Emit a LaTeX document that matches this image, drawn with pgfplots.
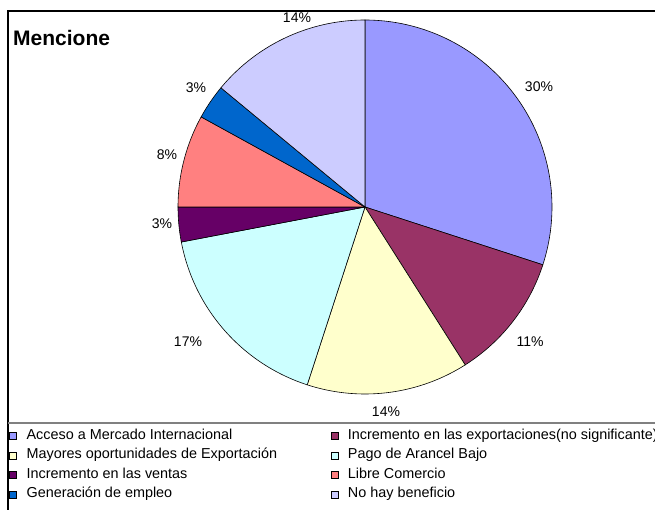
\documentclass[border=0pt]{standalone}
\usepackage{fontspec}
\setmainfont{Liberation Sans}
\usepackage{pgfplots}
\pgfplotsset{compat=1.18}
\definecolor{s1}{HTML}{9999FF}
\definecolor{s2}{HTML}{993366}
\definecolor{s3}{HTML}{FFFFCC}
\definecolor{s4}{HTML}{CCFFFF}
\definecolor{s5}{HTML}{660066}
\definecolor{s6}{HTML}{FF8080}
\definecolor{s7}{HTML}{0066CC}
\definecolor{s8}{HTML}{CCCCFF}
\definecolor{legline}{HTML}{808080}

% centre and radius of the pie, in pixel units of the 655x510 frame
\def\cx{365}
\def\cy{303}
\def\rr{187}

% one slice: #1 = cumulative percent before it, #2 = percent, #3 = colour, #4 = legend text
\newcommand\slice[4]{%
  \pgfmathsetmacro\angA{90-3.6*(#1+#2)}%
  \pgfmathsetmacro\angB{90-3.6*(#1)}%
  \edef\temp{\noexpand\addplot[draw=black, line width=0.6pt, fill=#3,
    domain=\angA:\angB, samples=90, variable=\noexpand\t]}%
  \temp ({\cx+\rr*cos(\t)},{\cy+\rr*sin(\t)}) -- (axis cs:\cx,\cy) -- cycle;
  \addlegendentry{#4}}

\newcommand\lab[1]{\makebox[304pt][l]{#1}}

\begin{document}
\begin{tikzpicture}
\begin{axis}[
  scale only axis, width=655pt, height=510pt,
  xmin=0, xmax=655, ymin=0, ymax=510,
  hide axis, clip=false,
  legend columns=2,
  legend cell align=left,
  legend image code/.code={\filldraw[#1, draw=black, line width=0.4pt] (0pt,-3.5pt) rectangle (7pt,3.5pt);},
  legend style={at={(axis description cs:0.0137,0.1588)}, anchor=north west,
    draw=none, fill=none, inner sep=0pt,
    font=\fontsize{14.4}{16}\selectfont,
    nodes={inner sep=0pt, text height=10pt, text depth=3pt},
    row sep=6.5pt,
    /tikz/every odd column/.append style={column sep=10pt}},
]
  \slice{0}{30}{s1}{\lab{Acceso a Mercado Internacional}}
  \slice{30}{11}{s2}{Incremento en las exportaciones(no significante)}
  \slice{41}{14}{s3}{\lab{Mayores oportunidades de Exportación}}
  \slice{55}{17}{s4}{Pago de Arancel Bajo}
  \slice{72}{3}{s5}{\lab{Incremento en las ventas}}
  \slice{75}{8}{s6}{Libre Comercio}
  \slice{83}{3}{s7}{\lab{Generación de empleo}}
  \slice{86}{14}{s8}{No hay beneficio}

  \begin{scope}[every node/.style={font=\fontsize{14}{16}\selectfont}]
    \node at (axis cs:539,423) {30\%};
    \node at (axis cs:530,168) {11\%};
    \node at (axis cs:386,98) {14\%};
    \node at (axis cs:188,168) {17\%};
    \node at (axis cs:162,286) {3\%};
    \node at (axis cs:167,355) {8\%};
    \node at (axis cs:196,422) {3\%};
    \node at (axis cs:297,492) {14\%};
  \end{scope}

  \node[anchor=west, inner sep=0pt, font=\bfseries\fontsize{21}{24}\selectfont] at (axis cs:13,472) {Mencione};

  % chart frame and legend separator
  \draw[black, line width=1.2pt] (axis cs:8,-5) -- (axis cs:8,499) -- (axis cs:660,499);
  \draw[legline, line width=2pt] (axis cs:8,87) -- (axis cs:660,87);
\end{axis}
\pgfresetboundingbox
\path (current axis.south west) rectangle (current axis.north east);
\end{tikzpicture}
\end{document}
